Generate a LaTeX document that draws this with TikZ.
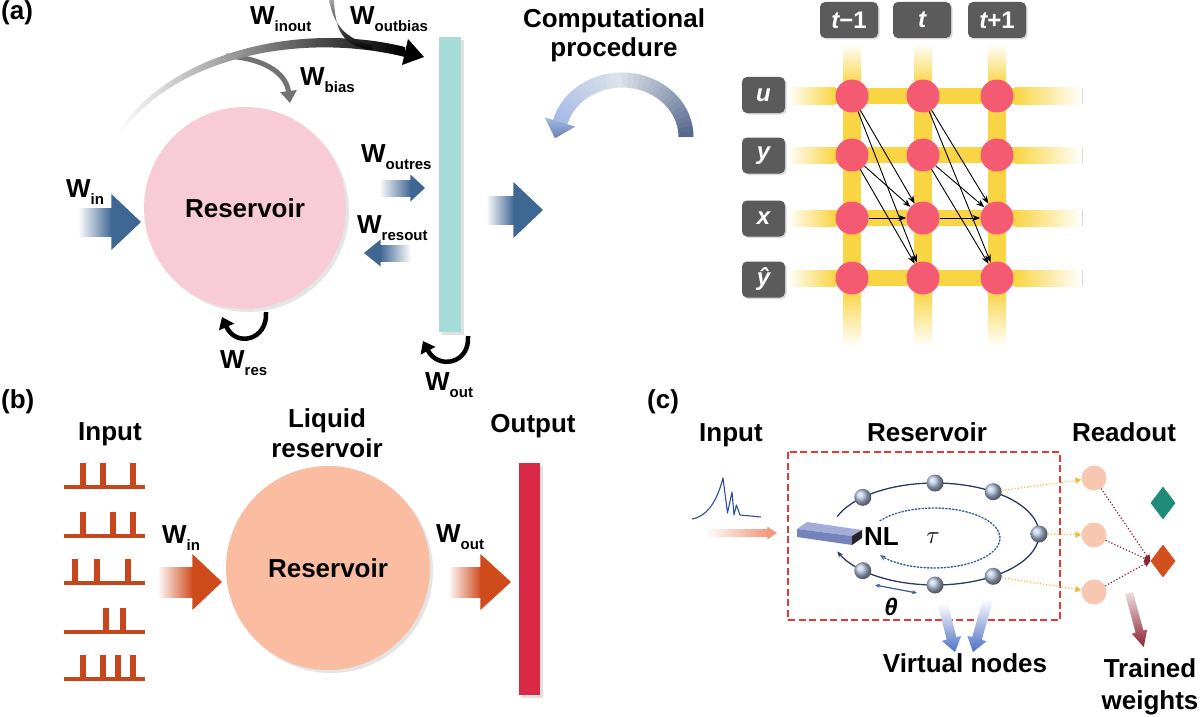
\documentclass[tikz,border=0pt]{standalone}
\usepackage{fontspec}
\setmainfont{Liberation Sans}
\usetikzlibrary{arrows.meta,shapes.geometric,shadows}
\definecolor{pinkres}{HTML}{F8CCD7}
\definecolor{tealbar}{HTML}{A5DCD8}
\definecolor{arrblue}{HTML}{3F6794}
\definecolor{gridbox}{HTML}{5B5B5B}
\definecolor{gold}{HTML}{F9D544}
\definecolor{gnode}{HTML}{F45A72}
\definecolor{salmon}{HTML}{FBBDA1}
\definecolor{orng}{HTML}{CF4B1C}
\definecolor{spk}{HTML}{C8461E}
\definecolor{crimson}{HTML}{DA2946}
\definecolor{cred}{HTML}{E53935}
\definecolor{navy}{HTML}{2E3A5E}
\definecolor{ballc}{HTML}{B4C4E2}
\definecolor{dotblue}{HTML}{3C5AA0}
\definecolor{yell}{HTML}{F3BC3C}
\definecolor{readnode}{HTML}{F8C7B2}
\definecolor{teald}{HTML}{1F8C79}
\definecolor{orgd}{HTML}{D1501E}
\definecolor{dred}{HTML}{8C2232}
\definecolor{vblue}{HTML}{4C6EC4}
\definecolor{cpD}{HTML}{56688C}
\definecolor{cpT}{HTML}{DDE2EC}
\definecolor{cpL}{HTML}{A3B9E4}
\definecolor{cpH}{HTML}{6A80B6}
\definecolor{wave}{HTML}{2E50A0}
\definecolor{inarr}{HTML}{F09A7C}
\definecolor{nlTop}{HTML}{A4ACD9}
\definecolor{nlFront}{HTML}{7682BC}
\newcommand{\Wl}[1]{W\raisebox{-7pt}{\fontsize{15}{15}\selectfont #1}}
\newcommand{\rarrow}[7]{%
  \shade[left color=white,right color=#7] (#1,#4-#5) rectangle (#2,#4+#5);
  \fill[#7] (#2-0.6,#4-#6) -- (#3,#4) -- (#2-0.6,#4+#6) -- cycle;}
\newcommand{\larrow}[7]{%
  \shade[left color=#7,right color=white] (#2,#4-#5) rectangle (#1,#4+#5);
  \fill[#7] (#2+0.6,#4-#6) -- (#3,#4) -- (#2+0.6,#4+#6) -- cycle;}
\newcommand{\spikes}[2]{%
  \fill[spk] (64,#1-1.6) rectangle (145,#1+1.6);
  \foreach \sx in {#2} {\fill[spk] (\sx-2.7,#1) rectangle (\sx+2.7,#1-24);}}
\begin{document}
\begin{tikzpicture}[x=1pt,y=-1pt,
  lab/.style={inner sep=0pt, font=\fontsize{26}{29}\selectfont\bfseries},
  boxlab/.style={fill=gridbox, rounded corners=5pt, text=white, inner sep=0pt,
     font=\fontsize{24}{26}\selectfont\bfseries\itshape,
     drop shadow={opacity=0.3, shadow xshift=1.5pt, shadow yshift=-1.5pt}},
  gn/.style={circle, fill=gnode, minimum size=33pt, inner sep=0pt},
  garr/.style={-{Stealth[length=8pt,width=6pt]}, line width=0.9pt, black},
  vball/.style={circle, shading=ball, ball color=ballc, minimum size=17pt, inner sep=0pt},
  rnode/.style={circle, fill=readnode, minimum size=25pt, inner sep=0pt},
  yarr/.style={yell, line width=1.2pt, dotted, -{Triangle[length=6pt,width=6pt]}},
  rarr/.style={dred, line width=1.2pt, dotted, -{Triangle[length=6pt,width=6pt]}},
  dia/.style={diamond, minimum width=25pt, minimum height=33pt, inner sep=0pt, aspect=0.76},
]
\useasboundingbox (0,0) rectangle (1200,717);
\fill[white] (0,0) rectangle (1200,717);

% ================= (a) =================
\node[lab, anchor=base west] (la) at (1,20) {(a)};
\fill[black!10] (248,211) circle[radius=101pt];
\node[circle, fill=pinkres, minimum size=202pt, lab] (resA) at (245,208) {Reservoir};
\fill[black!12] (442,40) rectangle (464,335);
\node[fill=tealbar, minimum width=22pt, minimum height=295pt, inner sep=0pt] (barA) at (450,184.5) {};

% W_bias branch
\draw[line width=5pt, black!55, -{Triangle[length=12pt,width=16pt]}] (226,56) .. controls (262,58) and (286,72) .. (290,103);
% W_inout arc
\shade[left color=white, middle color=black!55, right color=black] (118,132) .. controls (170,52) and (300,21) .. (405,47) -- (405,57) .. controls (300,31) and (172,58) .. (120,135) -- cycle;
\fill[black] (408,39) -- (424,57) -- (402,65) -- cycle;
% W_outbias
\shade[top color=black!35, bottom color=black] (329,-1) .. controls (333,24) and (345,39) .. (372,45) -- (372,50) .. controls (342,46) and (335,30) .. (334,-1) -- cycle;

\node[lab, anchor=base west] (lwinout) at (250,25) {\Wl{inout}};
\node[lab, anchor=base west] (lwoutbias) at (350,25) {\Wl{outbias}};
\node[lab, anchor=base west] (lwbias) at (300,85) {\Wl{bias}};

\rarrow{78}{112}{141}{222}{14}{28}{arrblue}
\node[lab, anchor=base west] (lwinA) at (66,197) {\Wl{in}};
\rarrow{379}{411}{425}{188}{8}{13.5}{arrblue}
\node[lab, anchor=base west] (lwoutres) at (361,162) {\Wl{outres}};
\larrow{411}{380}{364}{253}{8}{13.5}{arrblue}
\node[lab, anchor=base west] (lwresout) at (357,233) {\Wl{resout}};
\rarrow{486}{514}{543}{210}{14}{28}{arrblue}

\draw[line width=4.5pt, black, -{Triangle[length=11pt,width=16pt]}] (266,312) .. controls (268,340) and (236,348) .. (222,317);
\node[lab, anchor=base west] (lwres) at (220,368) {\Wl{res}};
\draw[line width=4.5pt, black, -{Triangle[length=11pt,width=16pt]}] (468,336) .. controls (470,364) and (438,370) .. (423,341);
\node[lab, anchor=base west] (lwoutA) at (425,390) {\Wl{out}};

% computational procedure
\node[lab, anchor=base] (cp1) at (614,28) {Computational};
\node[lab, anchor=base] (cp2) at (614,57) {procedure};
\foreach \i in {0,...,17} {
  \pgfmathsetmacro\ta{\i*5}
  \pgfmathsetmacro\tb{\i*5+5.8}
  \pgfmathsetmacro\pp{100-\i*100/18}
  \draw[line width=15pt, color=cpD!\pp!cpT] plot[domain=\ta:\tb, samples=4] ({622+64*cos(\x)},{137-57*sin(\x)});
}
\foreach \i in {18,...,32} {
  \pgfmathsetmacro\ta{\i*5}
  \pgfmathsetmacro\tb{\i*5+5.8}
  \pgfmathsetmacro\pp{(\i-18)*100/15}
  \draw[line width=15pt, color=cpL!\pp!cpT] plot[domain=\ta:\tb, samples=4] ({622+64*cos(\x)},{137-57*sin(\x)});
}
\shade[top color=cpL, bottom color=cpH] (575.3,126.6) -- (555.1,138.3) -- (544.7,117.4) -- cycle;

% grid bands
\foreach \xx in {852,923,997} {
  \shade[top color=white, bottom color=gold] (\xx-9,43) rectangle (\xx+9,85);
  \fill[gold] (\xx-9,85) rectangle (\xx+9,290);
  \shade[top color=gold, bottom color=white] (\xx-9,290) rectangle (\xx+9,347);
}
\foreach \yy in {96,155,218,278} {
  \shade[left color=white, right color=gold] (787,\yy-8) rectangle (835,\yy+8);
  \fill[gold] (835,\yy-8) rectangle (1015,\yy+8);
  \shade[left color=gold, right color=white] (1015,\yy-8) rectangle (1082,\yy+8);
  \draw[black!15, line width=1pt] (1082,\yy-8) -- (1082,\yy+8);
}
\node[boxlab, minimum width=58pt, minimum height=36pt] (ct1) at (849,20) {t\upshape−1};
\node[boxlab, minimum width=58pt, minimum height=36pt] (ct2) at (922,20) {t};
\node[boxlab, minimum width=58pt, minimum height=36pt] (ct3) at (997,20) {t\upshape+1};
\node[boxlab, minimum width=43pt, minimum height=36pt] (ru) at (763.5,95) {u};
\node[boxlab, minimum width=43pt, minimum height=36pt] (ry) at (763.5,155.5) {y};
\node[boxlab, minimum width=43pt, minimum height=36pt] (rx) at (763.5,218.5) {x};
\node[boxlab, minimum width=43pt, minimum height=36pt] (rh) at (763.5,279.5) {ŷ};
\foreach \cl/\xx in {1/852,2/923,3/997} {
  \foreach \rw/\yy in {u/96,y/155,x/218,h/278} {
    \node[gn] (\rw\cl) at (\xx,\yy) {};
  }
}
\foreach \a/\b in {1/2,2/3} {
  \draw[garr] (u\a) -- (x\b);
  \draw[garr] (u\a) -- (h\b);
  \draw[garr] (y\a) -- (x\b);
  \draw[garr] (y\a) -- (h\b);
  \draw[garr] (x\a) -- (x\b);
}

% ================= (b) =================
\node[lab, anchor=base west] (lb) at (1,408) {(b)};
\node[lab, anchor=base] (inB) at (110,440) {Input};
\spikes{487}{83,103,133}
\spikes{536}{83,113,133}
\spikes{583}{75,97,128}
\spikes{632}{106,123}
\spikes{679}{83,103,118,133}
\rarrow{157}{193}{222}{582}{15}{28}{orng}
\node[lab, anchor=base west] (lwinB) at (162,543) {\Wl{in}};
\fill[black!10] (331,571) circle[radius=102pt];
\node[circle, fill=salmon, minimum size=204pt, lab] (resB) at (328,568) {Reservoir};
\node[lab, anchor=base] (lq1) at (327,427) {Liquid};
\node[lab, anchor=base] (lq2) at (327,457) {reservoir};
\rarrow{448}{481}{511}{582}{15}{28}{orng}
\node[lab, anchor=base west] (lwoutB) at (436,542) {\Wl{out}};
\node[lab, anchor=base] (outB) at (533,432) {Output};
\fill[black!12] (522,466) rectangle (543,698);
\node[fill=crimson, minimum width=21pt, minimum height=232pt, inner sep=0pt] (barB) at (529.5,579) {};

% ================= (c) =================
\node[lab, anchor=base west] (lc) at (647,408) {(c)};
\node[lab, anchor=base] (inC) at (731,441) {Input};
\node[lab, anchor=base] (resC) at (927,441) {Reservoir};
\node[lab, anchor=base] (roC) at (1124,441) {Readout};
\draw[cred, line width=2.2pt, dash pattern=on 7pt off 3.5pt] (788,452) rectangle (1060,620);
\draw[wave, line width=1.1pt, line join=round] (692,519) .. controls (705,517) and (716,505) .. (723,478) -- (727.5,513) -- (732,492) -- (734,515) -- (736.4,505) -- (740,515) -- (761,517);
\rarrow{704}{768}{777}{533}{3.5}{6.5}{inarr}

\draw[navy, line width=1.3pt, -{Stealth[length=6pt,width=5pt]}] plot[domain=160:-160, samples=80] ({935+104*cos(\x)},{534-51*sin(\x)});
\draw[dotblue, line width=1.4pt, dotted, line cap=round, -{Stealth[length=6pt,width=5pt]}] plot[domain=145:-145, samples=60] ({934+66*cos(\x)},{538-30*sin(\x)});

\fill[nlTop] (797,529) -- (807,522) -- (862,530) -- (852,536) -- cycle;
\fill[nlFront] (797,529) -- (852,536) -- (852,545) -- (797,537) -- cycle;
\fill[black!85] (852,536) -- (862,530) -- (862,538) -- (852,545) -- cycle;
\node[lab, anchor=base west] (nl) at (864,545) {NL};
\node[inner sep=0pt, font=\fontsize{26}{28}\selectfont] (tau) at (933,538) {$\tau$};

\foreach \n/\t in {a/134,b/90,c/56,d/0,e/-56,f/-90,g/-134} {
  \node[vball] (v\n) at ({935+104*cos(\t)},{534-51*sin(\t)}) {};
}
\coordinate (th1) at (875,585);
\coordinate (th2) at (917,593);
\draw[dotblue, line width=1.2pt, {Stealth[length=5pt,width=4pt]}-{Stealth[length=5pt,width=4pt]}] (th1) -- (th2);
\node[lab, font=\fontsize{24}{26}\selectfont\bfseries\itshape] (th) at (891,607) {θ};

\shade[top color=white, bottom color=vblue] (947.9,603.8) -- (956.4,637.2) -- (961.2,635.9) -- (955,652) -- (941.8,640.9) -- (946.7,639.6) -- (938.2,606.2) -- cycle;
\shade[top color=white, bottom color=vblue] (992.8,601.4) -- (981.7,639.9) -- (986.5,641.3) -- (973,652) -- (967.3,635.7) -- (972.1,637.1) -- (983.2,598.6) -- cycle;
\node[lab, anchor=base] (vn) at (965,672) {Virtual nodes};

\node[rnode] (r1) at (1094,478) {};
\node[rnode] (r2) at (1094,535) {};
\node[rnode] (r3) at (1094,592) {};
\draw[yarr] (vc) -- (r1);
\draw[yarr] (vd) -- (r2);
\draw[yarr] (ve) -- (r3);
\node[dia, fill=teald] (dt) at (1163,503) {};
\node[dia, fill=orgd] (dor) at (1163,561) {};
\draw[rarr] (r1) -- (dor.west);
\draw[rarr] (r2) -- (dor.west);
\draw[rarr] (r3) -- (dor.west);
\shade[top color=dred!15, bottom color=dred] (1132.9,592) -- (1143.4,630.5) -- (1147.2,629.5) -- (1143.7,647) -- (1131.8,633.7) -- (1135.6,632.6) -- (1125.1,594) -- cycle;
\node[lab, anchor=base] (tw1) at (1150,677) {Trained};
\node[lab, anchor=base] (tw2) at (1150,709) {weights};
\end{tikzpicture}
\end{document}
